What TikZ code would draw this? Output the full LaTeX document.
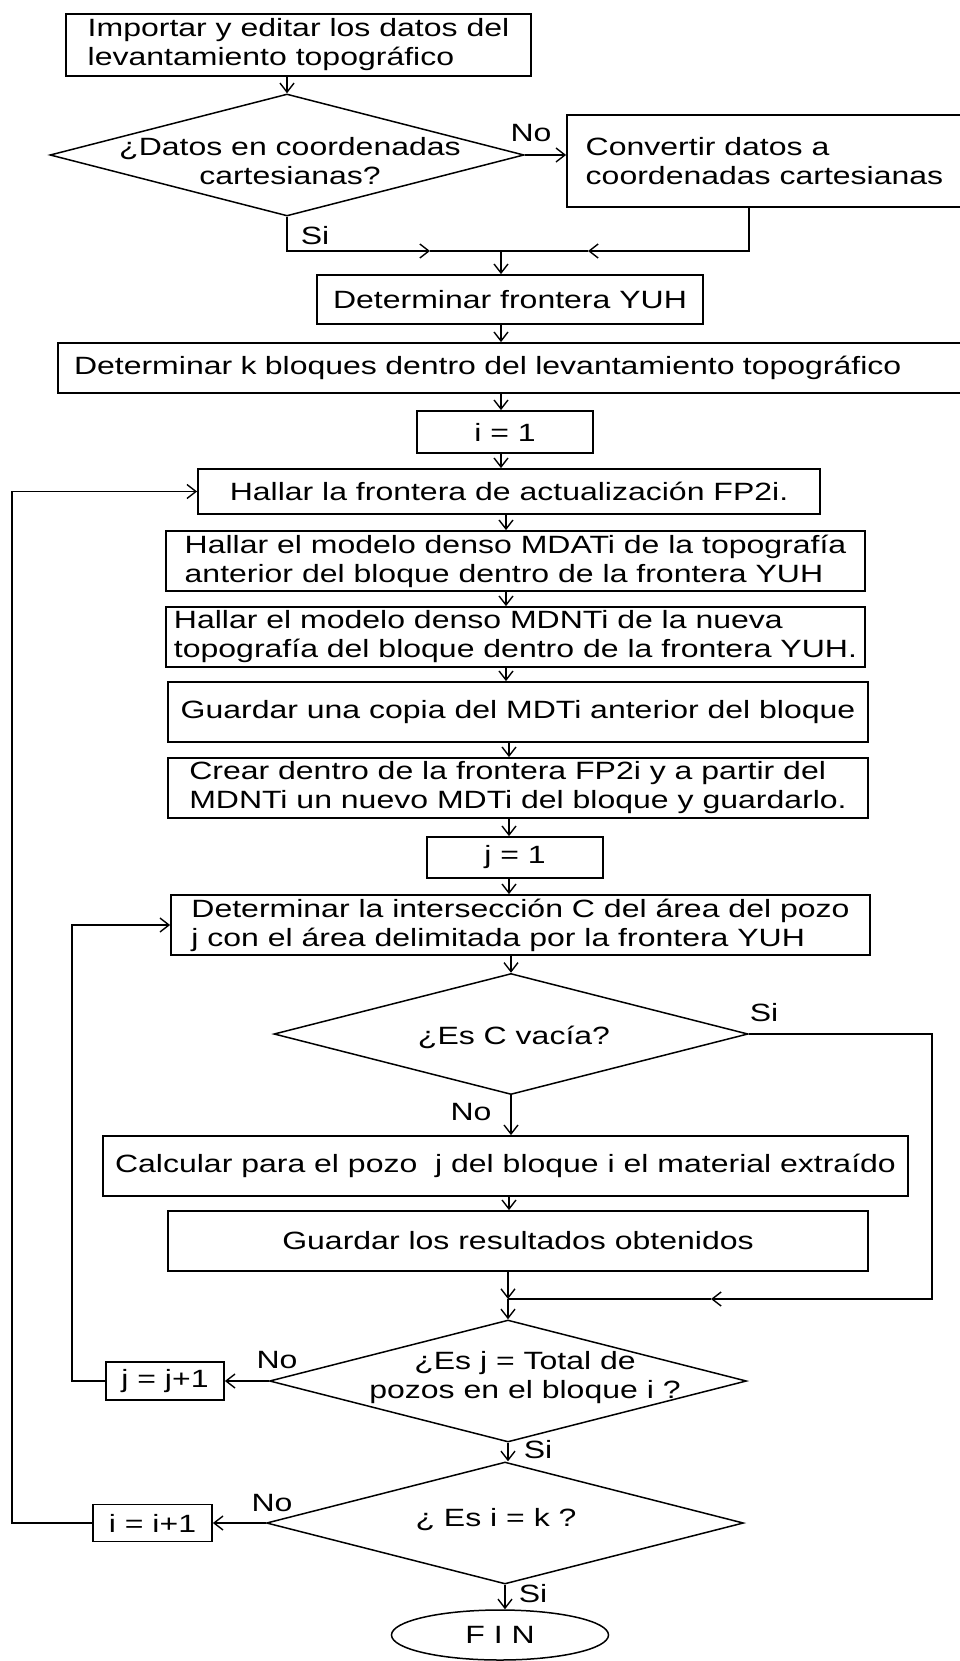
\documentclass[tikz,border=0pt]{standalone}
\usepackage{fontspec}
\setmainfont[FakeStretch=1.28]{Liberation Sans}
\usetikzlibrary{shapes.geometric,arrows.meta,positioning}
\tikzset{
  paso/.style={draw, line width=1.8pt, inner sep=0pt, align=left},
  decision/.style={draw, diamond, line width=1.5pt, inner sep=0pt},
  texto/.style={inner sep=0pt, align=center},
  rotulo/.style={inner sep=0pt},
  flecha/.style={line width=1.6pt, -{Straight Barb[length=9pt,width=14pt,line width=1.4pt]}},
  linea/.style={line width=1.6pt}
}

\begin{document}
\begin{tikzpicture}[x=1pt, y=-1pt, font=\fontsize{25pt}{29pt}\selectfont]
\useasboundingbox (0,0) rectangle (960,1661);
\clip (0,0) rectangle (960,1661);

\node[paso, minimum width=465pt, minimum height=62pt] (imp) at (298.5,45) {Importar y editar los datos del\\levantamiento topográfico};
\node[decision, minimum width=474pt, minimum height=122pt] (q1) at (287,155) {};
\node[texto] (q1t) at (290,161) {¿Datos en coordenadas\\cartesianas?};
\node[paso, minimum width=395pt, minimum height=92pt] (conv) at (764.5,161) {Convertir datos a\\coordenadas cartesianas};
\node[rotulo] (no1) at (531,133) {No};
\node[rotulo] (si1) at (315,236) {Si};
\coordinate (jn1) at (501,251);
\coordinate (m1) at (430,251);
\coordinate (m2) at (588,251);
\node[paso, minimum width=386pt, minimum height=49pt] (yuh) at (510,299.5) {Determinar frontera YUH};
\node[paso, text width=872pt, inner xsep=16pt, minimum height=50pt] (kblq) at (510,368) {Determinar k bloques dentro del levantamiento topográfico};
\node[paso, minimum width=176pt, minimum height=42pt] (i1) at (505,432) {i = 1};
\node[paso, minimum width=622pt, minimum height=45pt] (fp2) at (509,491.5) {Hallar la frontera de actualización FP2i.};
\node[paso, minimum width=699pt, minimum height=60pt] (mdat) at (515.5,561) {Hallar el modelo denso MDATi de la topografía\\anterior del bloque dentro de la frontera YUH};
\node[paso, minimum width=699pt, minimum height=60pt] (mdnt) at (515.5,637) {Hallar el modelo denso MDNTi de la nueva\\topografía del bloque dentro de la frontera YUH.};
\node[paso, minimum width=700pt, minimum height=60pt] (copia) at (518,712) {Guardar una copia del MDTi anterior del bloque};
\node[paso, minimum width=700pt, minimum height=60pt] (crear) at (518,788) {Crear dentro de la frontera FP2i y a partir del\\MDNTi un nuevo MDTi del bloque y guardarlo.};
\node[paso, minimum width=176pt, minimum height=41pt] (j1) at (515,857.5) {j = 1};
\node[paso, minimum width=699pt, minimum height=60pt] (inter) at (520.5,925) {Determinar la intersección C del área del pozo\\j con el área delimitada por la frontera YUH};
\node[decision, minimum width=474pt, minimum height=121pt] (q2) at (511,1034) {};
\node[texto] (q2t) at (514,1037) {¿Es C vacía?};
\node[rotulo] (si2) at (764,1013) {Si};
\node[rotulo] (no2) at (471,1112) {No};
\node[paso, minimum width=805pt, minimum height=60pt] (calc) at (505.5,1166) {Calcular para el pozo~ j del bloque i el material extraído};
\node[paso, minimum width=700pt, minimum height=60pt] (guard) at (518,1241) {Guardar los resultados obtenidos};
\coordinate (jn2) at (508,1299);
\coordinate (m3) at (711,1299);
\coordinate (rt) at (932,1299);
\node[decision, minimum width=477pt, minimum height=122pt] (q3) at (508,1381) {};
\node[texto] (q3t) at (525,1378) {¿Es j = Total de\\pozos en el bloque i ?};
\node[rotulo] (no3) at (277,1360) {No};
\node[paso, minimum width=118pt, minimum height=38pt] (jinc) at (165,1381) {j = j+1};
\node[rotulo] (si3) at (538,1450) {Si};
\node[decision, minimum width=477pt, minimum height=122pt] (q4) at (505,1523) {};
\node[texto] (q4t) at (496,1520) {¿ Es i = k ?};
\node[rotulo] (no4) at (272,1503) {No};
\node[paso, minimum width=119pt, minimum height=37pt] (iinc) at (152.5,1523) {i = i+1};
\node[rotulo] (si4) at (533,1594) {Si};
\node[draw, ellipse, line width=1.5pt, inner sep=0pt, minimum width=217pt, minimum height=50pt] (fin) at (500,1635) {F I N};

\coordinate (c1) at (501,0);
\coordinate (c2) at (506,0);
\coordinate (c3) at (509,0);

\draw[flecha] (imp.south -| q1.north) -- (q1.north);
\draw[flecha] (q1.east) -- (conv.west |- q1.east);
\draw[flecha] (q1.south) |- (m1);
\draw[linea] (m1) -- (jn1);
\draw[flecha] ([xshift=183pt]conv.south west) |- (m2);
\draw[linea] (m2) -- (jn1);
\draw[flecha] (jn1) -- (jn1 |- yuh.north);
\draw[flecha] (yuh.south -| c1) -- (kblq.north -| c1);
\draw[flecha] (kblq.south -| c1) -- (i1.north -| c1);
\draw[flecha] (i1.south -| c1) -- (fp2.north -| c1);
\draw[flecha] (fp2.south -| c2) -- (mdat.north -| c2);
\draw[flecha] (mdat.south -| c2) -- (mdnt.north -| c2);
\draw[flecha] (mdnt.south -| c2) -- (copia.north -| c2);
\draw[flecha] (copia.south -| c3) -- (crear.north -| c3);
\draw[flecha] (crear.south -| c3) -- (j1.north -| c3);
\draw[flecha] (j1.south -| c3) -- (inter.north -| c3);
\draw[flecha] (inter.south -| q2.north) -- (q2.north);
\draw[flecha] (q2.south) -- (q2.south |- calc.north);
\draw[flecha] (calc.south -| c3) -- (guard.north -| c3);
\draw[flecha] (guard.south -| jn2) -- (jn2);
\draw[flecha] (q2.east) -| (rt) -- (m3);
\draw[linea] (m3) -- (jn2);
\draw[flecha] (jn2) -- (q3.north);
\draw[flecha] (q3.west) -- (jinc.east);
\draw[flecha] (jinc.west) -- ++(-33,0) |- (inter.west);
\draw[flecha] (q3.south) -- (q3.south |- q4.north);
\draw[flecha] (q4.west) -- (iinc.east);
\draw[flecha] (iinc.west) -- ++(-80,0) |- (fp2.west);
\draw[flecha] (q4.south) -- (q4.south |- fin.north);
\end{tikzpicture}
\end{document}
